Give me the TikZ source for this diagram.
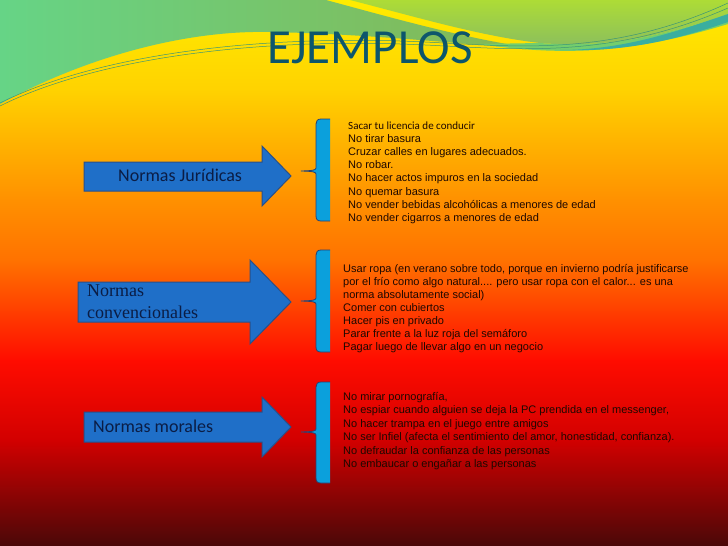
\documentclass[tikz,border=0pt]{standalone}
\usepackage{fontspec}
\setmainfont{Liberation Sans}
\newfontfamily\calib{Carlito}
\newfontfamily\serifb{Liberation Serif}
\definecolor{bgA}{HTML}{FFEC00}
\definecolor{bgB}{HTML}{FFD200}
\definecolor{bgC}{HTML}{FF9000}
\definecolor{bgD}{HTML}{FF7200}
\definecolor{bgE}{HTML}{FF0C00}
\definecolor{bgF}{HTML}{D20000}
\definecolor{bgG}{HTML}{4A0808}
\definecolor{gLa}{HTML}{66D486}
\definecolor{gLb}{HTML}{86B652}
\definecolor{gRa}{HTML}{ADDC36}
\definecolor{gRb}{HTML}{8ABE5E}
\definecolor{gband}{HTML}{74CE6C}
\definecolor{tealc}{HTML}{3AAEA0}
\definecolor{wline}{HTML}{3C9676}
\definecolor{titlec}{HTML}{0D566C}
\definecolor{arrowblue}{HTML}{1F6FC8}
\definecolor{arrowedge}{HTML}{2A5088}
\definecolor{bracefill}{HTML}{0BA0DC}
\definecolor{braceedge}{HTML}{2B3F6E}
\definecolor{labelc}{HTML}{0B1D45}
\definecolor{listc}{HTML}{1E0800}
\tikzset{
  arrowshape/.style={fill=arrowblue, draw=arrowedge, line width=1pt, line join=miter},
  bracebody/.style={fill=bracefill},
  braceline/.style={draw=braceedge, line width=0.8pt},
  labelsans/.style={font=\calib\fontsize{18}{21}\selectfont, text=labelc, inner sep=0pt},
  labelserif/.style={font=\serifb\fontsize{18}{21}\selectfont, text=labelc, inner sep=0pt},
  listtext/.style={font=\fontsize{11}{13}\selectfont, text=listc, inner sep=0pt, anchor=base west},
  waveline/.style={draw=wline, line width=0.5pt}
}
\begin{document}
\begin{tikzpicture}[x=1pt,y=-1pt]
\useasboundingbox (0,0) rectangle (728,546);
% background bands
\shade[top color=bgA, bottom color=bgB] (0,0) rectangle (728,91);
\shade[top color=bgB, bottom color=bgC] (0,90) rectangle (728,201);
\shade[top color=bgC, bottom color=bgD] (0,200) rectangle (728,261);
\shade[top color=bgD, bottom color=bgE] (0,260) rectangle (728,361);
\shade[top color=bgE, bottom color=bgF] (0,360) rectangle (728,441);
\shade[top color=bgF, bottom color=bgG] (0,440) rectangle (728,546);
% top-left green wave
\shade[left color=gLa, right color=gLb]
  (0,0) -- (326,0) .. controls (400,20) and (470,40) .. (545,50)
  .. controls (460,44) and (370,34) .. (270,32)
  .. controls (180,30) and (80,60) .. (0,104) -- cycle;
% top-right green
\shade[top color=gRa, bottom color=gRb]
  (350,0) .. controls (420,18) and (480,36) .. (540,43)
  .. controls (600,48) and (660,38) .. (728,14) -- (728,0) -- cycle;
% light green band
\fill[gband] (480,44) .. controls (560,56) and (630,54) .. (728,24)
  -- (728,14) .. controls (660,38) and (600,48) .. (540,43) -- cycle;
% teal stripe
\fill[tealc] (560,50) .. controls (620,50) and (670,34) .. (728,14)
  -- (728,22) .. controls (670,42) and (620,52) .. (560,50) -- cycle;
% thin lines
\draw[waveline] (0,103) .. controls (90,58) and (240,36) .. (400,41) .. controls (500,44) and (600,62) .. (728,3);
\draw[waveline] (0,106) .. controls (90,61) and (240,39) .. (400,44) .. controls (500,47) and (600,64) .. (728,8);
% title
\node[font=\calib\fontsize{49}{55}\selectfont, text=titlec, anchor=base, inner sep=0pt] (title) at (370,63) {EJEMPLOS};
% arrows
\draw[arrowshape] (84,162) -- (262,162) -- (262,146) -- (291,176) -- (262,206) -- (262,191) -- (84,191) -- cycle;
\draw[arrowshape] (78,282) -- (250,282) -- (250,260) -- (291,302) -- (250,344) -- (250,322) -- (78,322) -- cycle;
\draw[arrowshape] (84,412) -- (262,412) -- (262,397) -- (291,427) -- (262,457) -- (262,442) -- (84,442) -- cycle;
\node[labelsans, anchor=base west] (lab1) at (118,181) {Normas Jurídicas};
\node[labelserif, anchor=base west] (lab2a) at (87,296) {Normas};
\node[labelserif, anchor=base west] (lab2b) at (87,318) {convencionales};
\node[labelsans, anchor=base west] (lab3) at (93,432) {Normas morales};
% brackets
\foreach \t/\b/\m in {119/221/171, 250/352/301, 382/483/432} {
  \fill[bracebody] (330,\t) -- (321,\t) .. controls (317.5,\t) and (316,\t+2) .. (316,\t+5)
    -- (316,\m-3) .. controls (316,\m-1) and (313,\m-0.3) .. (301,\m)
    .. controls (313,\m+0.3) and (316,\m+1) .. (316,\m+3)
    -- (316,\b-5) .. controls (316,\b-1.5) and (317.5,\b) .. (321,\b) -- (330,\b) -- cycle;
  \draw[braceline] (330,\t) -- (321,\t) .. controls (317.5,\t) and (316,\t+2) .. (316,\t+5)
    -- (316,\m-3) .. controls (316,\m-1) and (313,\m-0.3) .. (301,\m)
    .. controls (313,\m+0.3) and (316,\m+1) .. (316,\m+3)
    -- (316,\b-5) .. controls (316,\b-1.5) and (317.5,\b) .. (321,\b) -- (330,\b);
}
% list 1
\node[listtext, font=\calib\fontsize{11}{13}\selectfont] (la0) at (348,129) {Sacar tu licencia de conducir};
\node[listtext] (la1) at (348,142.2) {No tirar basura};
\node[listtext] (la2) at (348,155.4) {Cruzar calles en lugares adecuados.};
\node[listtext] (la3) at (348,168.6) {No robar.};
\node[listtext] (la4) at (348,181.8) {No hacer actos impuros en la sociedad};
\node[listtext] (la5) at (348,195.0) {No quemar basura};
\node[listtext] (la6) at (348,208.2) {No vender bebidas alcohólicas a menores de edad};
\node[listtext] (la7) at (348,221.4) {No vender cigarros a menores de edad};
% list 2
\node[listtext] (lb0) at (343,272) {Usar ropa (en verano sobre todo, porque en invierno podría justificarse};
\node[listtext] (lb1) at (343,285) {por el frío como algo natural.... pero usar ropa con el calor... es una};
\node[listtext] (lb2) at (343,298) {norma absolutamente social)};
\node[listtext] (lb3) at (343,311) {Comer con cubiertos};
\node[listtext] (lb4) at (343,324) {Hacer pis en privado};
\node[listtext] (lb5) at (343,337) {Parar frente a la luz roja del semáforo};
\node[listtext] (lb6) at (343,350) {Pagar luego de llevar algo en un negocio};
% list 3
\node[listtext] (lc0) at (343,400) {No mirar pornografía,};
\node[listtext] (lc1) at (343,413.5) {No espiar cuando alguien se deja la PC prendida en el messenger,};
\node[listtext] (lc2) at (343,427) {No hacer trampa en el juego entre amigos};
\node[listtext] (lc3) at (343,440.5) {No ser Infiel (afecta el sentimiento del amor, honestidad, confianza).};
\node[listtext] (lc4) at (343,454) {No defraudar la confianza de las personas};
\node[listtext] (lc5) at (343,467.5) {No embaucar o engañar a las personas};
\end{tikzpicture}
\end{document}
